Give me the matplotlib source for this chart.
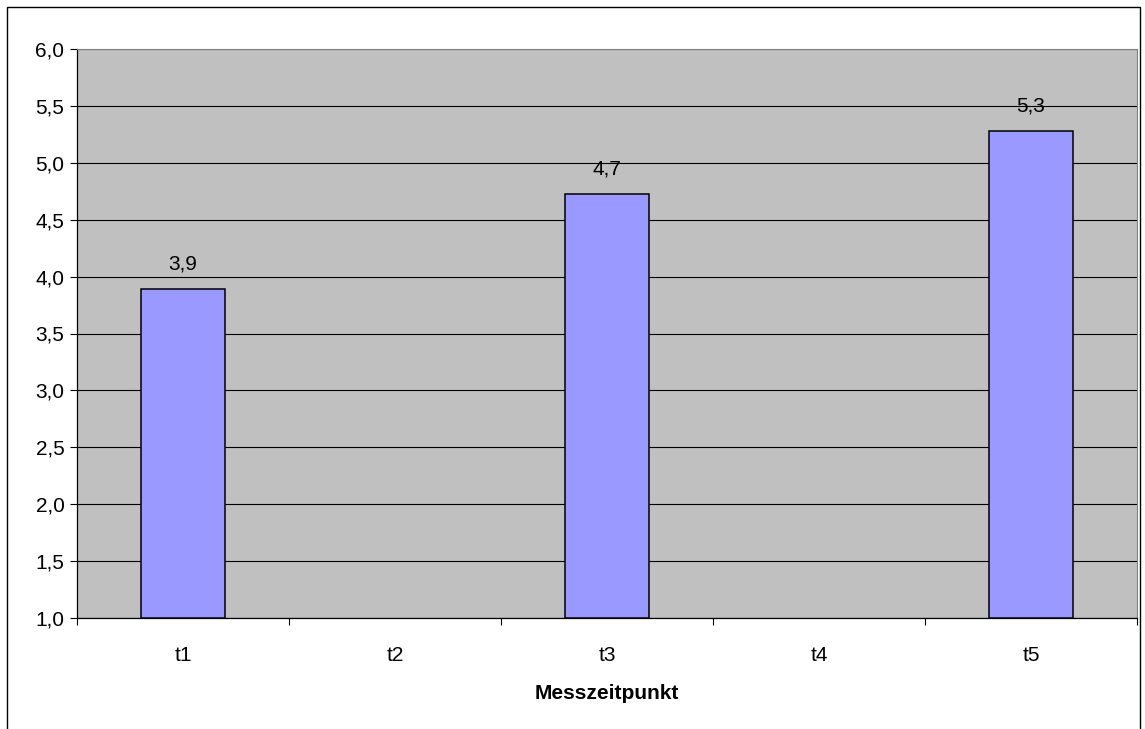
import matplotlib.pyplot as plt
import numpy as np
from matplotlib.patches import Rectangle

categories = ["t1", "t2", "t3", "t4", "t5"]
values = [3.89, np.nan, 4.73, np.nan, 5.28]
y_ticks = [1.0, 1.5, 2.0, 2.5, 3.0, 3.5, 4.0, 4.5, 5.0, 5.5, 6.0]

plt.rcParams['font.family'] = ['Liberation Sans', 'DejaVu Sans']
FS = 15

fig = plt.figure(figsize=(11.45, 7.29), dpi=100)
ax = fig.add_axes([77 / 1145, 1 - 618 / 729, (1137 - 77) / 1145, (618 - 49) / 729])

# figure border like the Excel chart area
fig.patches.append(Rectangle((7 / 1145, -0.01), (1140 - 7) / 1145, 1 - 7 / 729 + 0.01,
                             transform=fig.transFigure, fill=False,
                             edgecolor="black", linewidth=1.0))

ax.set_facecolor("#C0C0C0")
x = np.arange(len(categories))
for xi, v in zip(x, values):
    if np.isnan(v):
        continue
    ax.bar(xi, v - 1.0, bottom=1.0, width=0.4, color="#9999FF",
           edgecolor="black", linewidth=1.1, zorder=3)
    ax.text(xi, v + 0.17, f"{v:.1f}".replace(".", ","), ha="center",
            va="baseline", fontsize=FS, zorder=4)

ax.set_xlim(-0.5, len(categories) - 0.5)
ax.set_ylim(1.0, 6.0)
ax.set_yticks(y_ticks)
ax.set_yticklabels([f"{t:.1f}".replace(".", ",") for t in y_ticks], fontsize=FS)
ax.yaxis.grid(True, color="black", linewidth=0.8, zorder=1)
ax.set_axisbelow(True)

ax.set_xticks(x)
ax.set_xticklabels(categories, fontsize=FS)
ax.tick_params(axis="x", length=0, pad=20)
ax.set_xticks(np.arange(len(categories) + 1) - 0.5, minor=True)
ax.tick_params(axis="x", which="minor", length=5, width=0.8, direction="out")
ax.tick_params(axis="y", length=5, width=0.8, direction="out", pad=4)

ax.set_xlabel("Messzeitpunkt", fontsize=FS, fontweight="bold", labelpad=14)

for side in ["top", "right"]:
    ax.spines[side].set_color("#808080")
    ax.spines[side].set_linewidth(0.8)
for side in ["left", "bottom"]:
    ax.spines[side].set_color("black")
    ax.spines[side].set_linewidth(0.9)

fig.savefig("out.png", dpi=100)
